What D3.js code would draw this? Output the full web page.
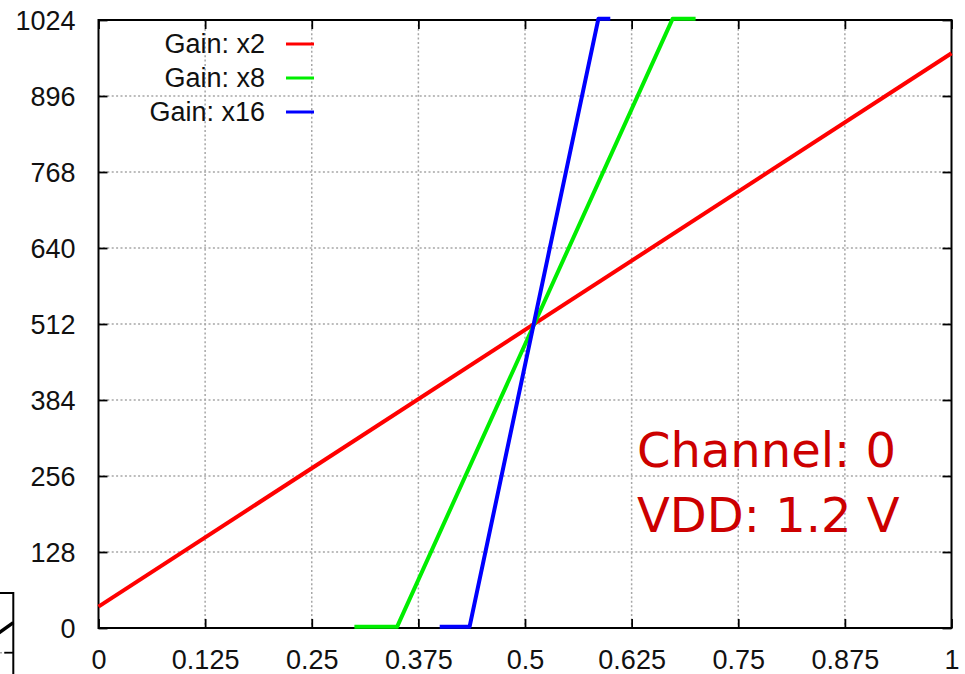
<!DOCTYPE html>
<html>
<head>
<meta charset="utf-8">
<script src="https://cdn.jsdelivr.net/npm/d3@7"></script>
<style>
  html, body { margin: 0; padding: 0; background: #fff; }
  svg { display: block; }
</style>
</head>
<body>
<svg id="chart" width="965" height="674"></svg>
<script>
// Input voltage (V) and ADC output code at each vertex of the transfer curves
const seriesNames = ["Gain: x2", "Gain: x8", "Gain: x16"];
const seriesColors = ["#ff0000", "#00ee00", "#0000ff"];
const gain2Volts  = [0, 1];
const gain2Codes  = [36, 968];
const gain8Volts  = [0.30, 0.35, 0.673, 0.70];
const gain8Codes  = [2, 2, 1026, 1026];
const gain16Volts = [0.40, 0.435, 0.586, 0.60];
const gain16Codes = [2, 2, 1026, 1026];

const xTicks = [0, 0.125, 0.25, 0.375, 0.5, 0.625, 0.75, 0.875, 1];
const xTickLabels = ["0", "0.125", "0.25", "0.375", "0.5", "0.625", "0.75", "0.875", "1"];
const yTicks = [0, 128, 256, 384, 512, 640, 768, 896, 1024];

const noteLines = ["Channel: 0", "VDD: 1.2 V"];

// Edge of the neighbouring panel (its own units)
const sideVolts = [0.98, 1];
const sideCodes = [845, 897];

const svg = d3.select("#chart");
const W = 965, H = 674;
const plot = { left: 98.5, right: 951.5, top: 20, bottom: 628 };

const x = d3.scaleLinear().domain([0, 1]).range([plot.left, plot.right]);
const y = d3.scaleLinear().domain([0, 1024]).range([plot.bottom, plot.top]);

const tickFont = "'Liberation Sans', Arial, sans-serif";
const gridStyle = { stroke: "#a6a6a6", width: 1.5, dash: "2,2.4" };

// Grid
const grid = svg.append("g").attr("stroke", gridStyle.stroke).attr("stroke-width", gridStyle.width)
  .attr("stroke-dasharray", gridStyle.dash);
grid.selectAll("line.gx").data(xTicks.slice(1, -1)).join("line")
  .attr("x1", d => x(d)).attr("x2", d => x(d))
  .attr("y1", plot.top).attr("y2", plot.bottom);
grid.selectAll("line.gy").data(yTicks.slice(1, -1)).join("line")
  .attr("x1", plot.left).attr("x2", plot.right)
  .attr("y1", d => y(d)).attr("y2", d => y(d));

// Axes with inward ticks, mirrored on top and right
const tickLen = 9;
const axisB = d3.axisBottom(x).tickValues(xTicks).tickSize(-tickLen)
  .tickFormat((d, i) => xTickLabels[i]);
const axisT = d3.axisTop(x).tickValues(xTicks).tickSize(-tickLen).tickFormat("");
const axisL = d3.axisLeft(y).tickValues(yTicks).tickSize(-tickLen).tickFormat(d3.format("d"));
const axisR = d3.axisRight(y).tickValues(yTicks).tickSize(-tickLen).tickFormat("");

function styleAxis(g) {
  g.select(".domain").remove();
  g.selectAll(".tick line").attr("stroke", "#000").attr("stroke-width", 1.8);
  g.selectAll(".tick text").attr("fill", "#111").attr("font-family", tickFont).attr("font-size", 27);
}

const gB = svg.append("g").attr("transform", `translate(0,${plot.bottom})`).call(axisB).call(styleAxis);
gB.selectAll(".tick text").attr("dy", null).attr("y", 41);
svg.append("g").attr("transform", `translate(0,${plot.top})`).call(axisT).call(styleAxis);
const gL = svg.append("g").attr("transform", `translate(${plot.left},0)`).call(axisL).call(styleAxis);
gL.selectAll(".tick text").attr("x", -23).attr("dy", "0.36em");
svg.append("g").attr("transform", `translate(${plot.right},0)`).call(axisR).call(styleAxis);

// Frame
svg.append("rect")
  .attr("x", plot.left).attr("y", plot.top)
  .attr("width", plot.right - plot.left).attr("height", plot.bottom - plot.top)
  .attr("fill", "none").attr("stroke", "#000").attr("stroke-width", 2);

// Transfer curves
const series = [
  { name: seriesNames[0], color: seriesColors[0], v: gain2Volts,  c: gain2Codes },
  { name: seriesNames[1], color: seriesColors[1], v: gain8Volts,  c: gain8Codes },
  { name: seriesNames[2], color: seriesColors[2], v: gain16Volts, c: gain16Codes }
];
const line = d3.line().x(d => x(d[0])).y(d => y(d[1]));
svg.append("g").selectAll("path").data(series).join("path")
  .attr("d", s => line(s.v.map((v, i) => [v, s.c[i]])))
  .attr("fill", "none")
  .attr("stroke", s => s.color)
  .attr("stroke-width", 4)
  .attr("stroke-linejoin", "round");

// Legend
const legend = svg.append("g");
const legendRows = legend.selectAll("g").data(series).join("g")
  .attr("transform", (d, i) => `translate(0,${44 + i * 34})`);
legendRows.append("text")
  .attr("x", 265).attr("y", 0).attr("dy", "0.34em")
  .attr("text-anchor", "end")
  .attr("font-family", tickFont).attr("font-size", 27).attr("fill", "#111")
  .text(d => d.name);
legendRows.append("line")
  .attr("x1", 286).attr("x2", 314).attr("y1", 0).attr("y2", 0)
  .attr("stroke", d => d.color).attr("stroke-width", 3);

// Annotation
svg.append("g").selectAll("text").data(noteLines).join("text")
  .attr("x", 637).attr("y", (d, i) => 467 + i * 65)
  .attr("font-family", "'DejaVu Sans', sans-serif")
  .attr("font-size", 48)
  .attr("fill", "#cc0000")
  .text(d => d);

// Neighbouring panel peeking in at the lower-left corner
const sx = d3.scaleLinear().domain([0, 1]).range([13.3 - 853, 13.3]);
const sy = d3.scaleLinear().domain([0, 1024]).range([831.8, 593]);
const side = svg.append("g");
side.append("line").attr("x1", 0).attr("x2", sx(0.991))
  .attr("y1", sy(768)).attr("y2", sy(768))
  .attr("stroke", gridStyle.stroke).attr("stroke-width", gridStyle.width)
  .attr("stroke-dasharray", gridStyle.dash);
side.append("line").attr("x1", sx(1) - tickLen).attr("x2", sx(1))
  .attr("y1", sy(768)).attr("y2", sy(768))
  .attr("stroke", "#000").attr("stroke-width", 1.8);
side.append("path")
  .attr("d", d3.line().x(d => sx(d[0])).y(d => sy(d[1]))(sideVolts.map((v, i) => [v, sideCodes[i]])))
  .attr("fill", "none").attr("stroke", "#000").attr("stroke-width", 3.5);
side.append("path")
  .attr("d", `M0,${sy(1024)}H${sx(1)}V${H}`)
  .attr("fill", "none").attr("stroke", "#000").attr("stroke-width", 2);
</script>
</body>
</html>
